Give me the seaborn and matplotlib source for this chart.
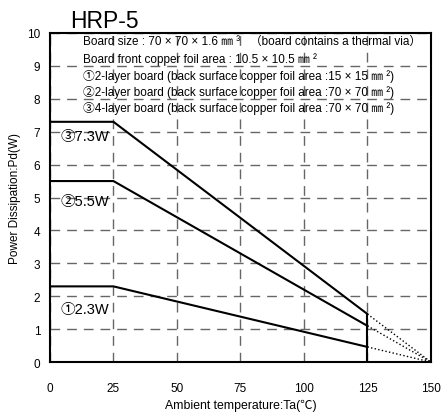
import pandas as pd
import seaborn as sb
import matplotlib.pyplot as plt

# derating curves (Ta in degC, Pd in W)
ta = [0, 25, 125]
ta_ext = [125, 150]
pd_1 = [2.3, 2.3, 0.46]
pd_2 = [5.5, 5.5, 1.1]
pd_3 = [7.3, 7.3, 1.46]
pd_1_ext = [0.46, 0.0]
pd_2_ext = [1.1, 0.0]
pd_3_ext = [1.46, 0.0]
curve_labels = ['①2.3W', '②5.5W', '③7.3W']
label_pos = [(4, 1.6), (4, 4.9), (4, 6.87)]
notes = [
    'Board size : 70 × 70 × 1.6 ㎜ ³   （board contains a thermal via）',
    'Board front copper foil area : 10.5 × 10.5 ㎜ ²',
    '①2-layer board (back surface copper foil area :15 × 15 ㎜ ²)',
    '②2-layer board (back surface copper foil area :70 × 70 ㎜ ²)',
    '③4-layer board (back surface copper foil area :70 × 70 ㎜ ²)',
]
note_y = [9.75, 9.22, 8.72, 8.23, 7.74]

sb.set_style('white')
plt.rcParams['font.family'] = ['Liberation Sans', 'Noto Sans CJK JP']
plt.rcParams['text.color'] = 'black'
plt.rcParams['axes.labelcolor'] = 'black'
plt.rcParams['xtick.color'] = 'black'
plt.rcParams['ytick.color'] = 'black'

fig = plt.figure(figsize=(4.42, 4.14), dpi=100)
ax = fig.add_axes([0.113, 0.123, 0.862, 0.795])

solid = pd.DataFrame({'ta': ta * 3, 'pd': pd_1 + pd_2 + pd_3,
                      'board': ['1'] * 3 + ['2'] * 3 + ['3'] * 3})
dotted = pd.DataFrame({'ta': ta_ext * 3, 'pd': pd_1_ext + pd_2_ext + pd_3_ext,
                       'board': ['1'] * 2 + ['2'] * 2 + ['3'] * 2})

sb.lineplot(data=solid, x='ta', y='pd', units='board', estimator=None,
            color='black', lw=1.5, ax=ax)
sb.lineplot(data=dotted, x='ta', y='pd', units='board', estimator=None,
            color='black', lw=1, ls=':', ax=ax)
ax.plot([125, 125], [0, pd_3[-1]], color='black', lw=1.5)

ax.set_xlim(0, 150)
ax.set_ylim(0, 10)
ax.set_xticks(range(0, 151, 25))
ax.set_yticks(range(0, 11))
ax.grid(True, color='#666666', ls=(0, (7, 5)), lw=1)
for s in ax.spines.values():
    s.set_color('black')
    s.set_linewidth(1.5)
ax.tick_params(length=0, labelsize=8.5, pad=7)
ax.tick_params(axis='x', pad=14)
ax.set_xlabel('Ambient temperature:Ta(℃)', fontsize=8.8, labelpad=4)
ax.set_ylabel('Power Dissipation:Pd(W)', fontsize=8.5)

for lab, (x, y) in zip(curve_labels, label_pos):
    ax.text(x, y, lab, fontsize=10.5, va='center')
for t, y in zip(notes, note_y):
    ax.text(13, y, t, fontsize=8.5, va='center')

fig.text(0.158, 0.932, 'HRP-5', fontsize=16.5)

plt.savefig('out.png', dpi=100)
